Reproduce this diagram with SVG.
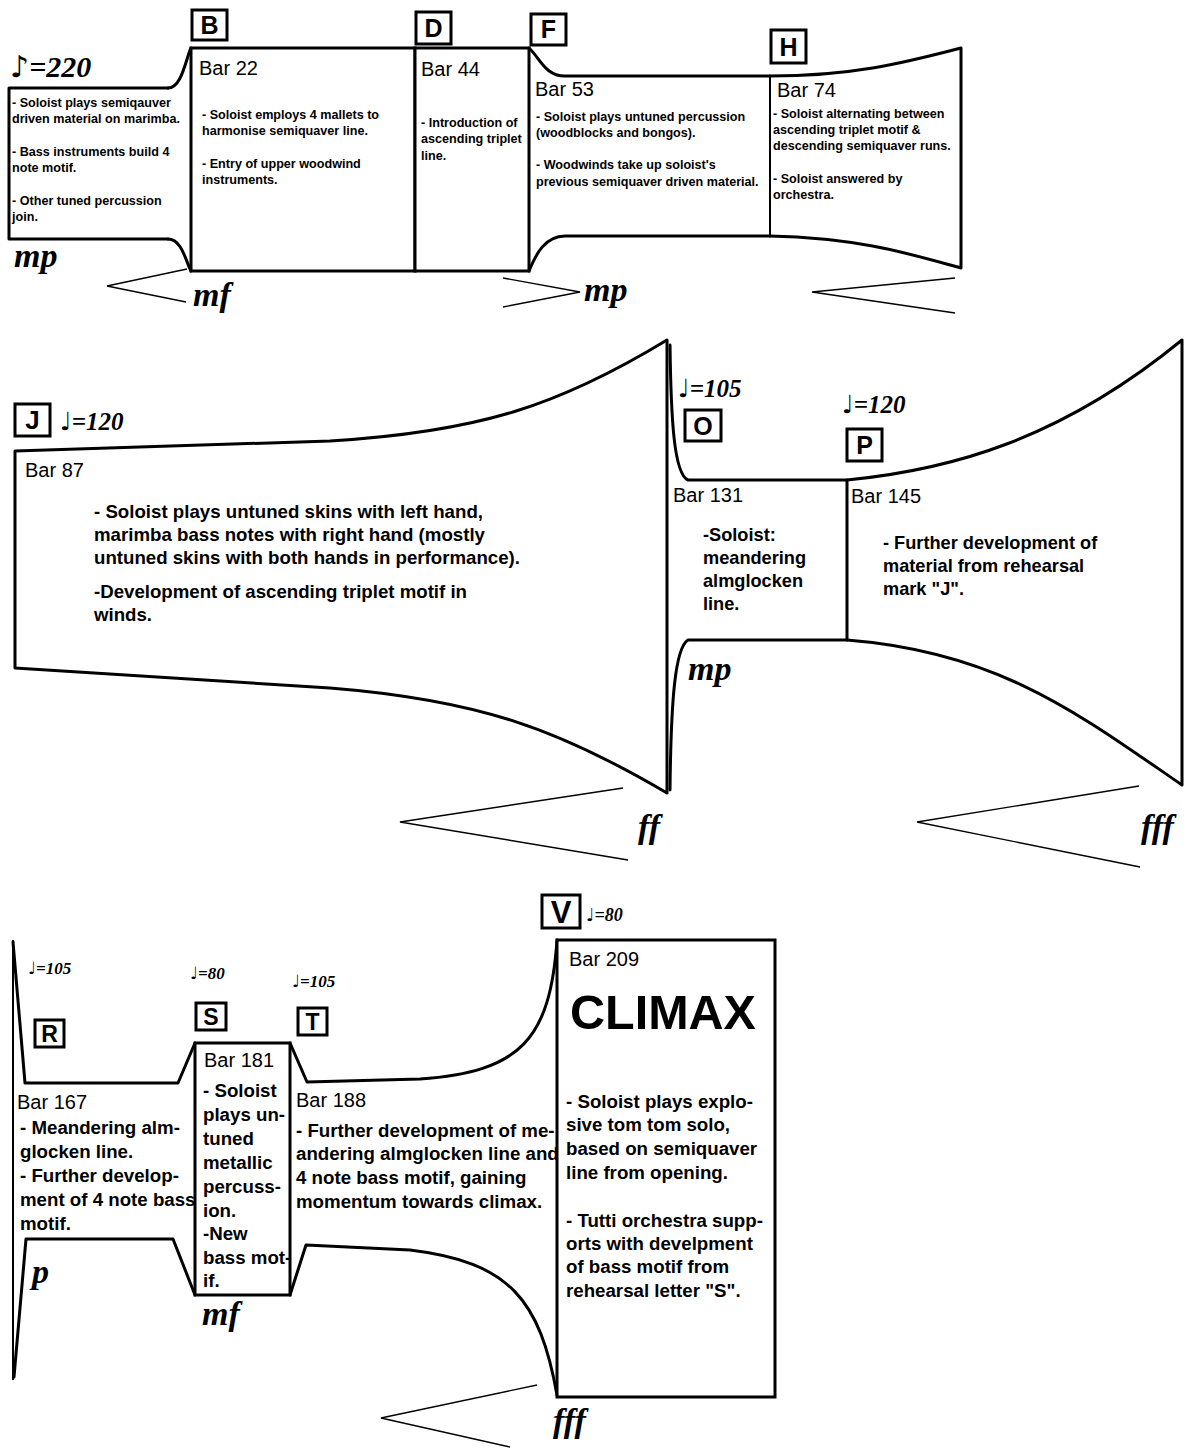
<svg xmlns="http://www.w3.org/2000/svg" width="1199" height="1448" viewBox="0 0 1199 1448">
  <style>
    .edge { fill: none; stroke: #000; stroke-width: 3; stroke-linejoin: round; stroke-linecap: round; }
    .edge2 { fill: none; stroke: #000; stroke-width: 2; }
    .hair { fill: none; stroke: #000; stroke-width: 1.4; }
    .box { fill: #fff; stroke: #000; stroke-width: 3; }
    .lbl { font-family: "Liberation Sans", Arial, sans-serif; font-weight: bold; text-anchor: middle; fill: #000; }
    .sm { font-family: "Liberation Sans", Arial, sans-serif; font-weight: bold; font-size: 12.6px; fill: #000; }
    .bar { font-family: "Liberation Sans", Arial, sans-serif; font-size: 20px; fill: #000; }
    .md { font-family: "Liberation Sans", Arial, sans-serif; font-weight: bold; font-size: 18.2px; fill: #000; }
    .lg { font-family: "Liberation Sans", Arial, sans-serif; font-weight: bold; font-size: 18.7px; fill: #000; }
    .big { font-family: "Liberation Sans", Arial, sans-serif; font-weight: bold; font-size: 48.5px; fill: #000; }
    .dyn { font-family: "Liberation Serif", "DejaVu Serif", serif; font-weight: bold; font-style: italic; font-size: 34px; fill: #000; }
    .tempo { font-family: "Liberation Serif", "DejaVu Serif", serif; font-weight: bold; font-style: italic; fill: #000; }
    .note { font-family: "DejaVu Sans", sans-serif; font-style: normal; font-weight: normal; }
  </style>
  <rect width="1199" height="1448" fill="#fff"/>

  <!-- ===== Row 1: bars 1-86 ===== -->
  <g id="intro">
    <path class="edge" d="M168,88 L9,88 L9,239 L168,239"/>
    <path class="edge" d="M168,88 C182,88 186,58 191,48"/>
    <path class="edge" d="M168,239 C182,239 186,262 191,271"/>
    <text class="tempo" x="10" y="77" font-size="30"><tspan class="note">♪</tspan>=220</text>
    <text class="sm" x="12" y="107">- Soloist plays semiqauver</text>
    <text class="sm" x="12" y="123">driven material on marimba.</text>
    <text class="sm" x="12" y="156">- Bass instruments build 4</text>
    <text class="sm" x="12" y="172">note motif.</text>
    <text class="sm" x="12" y="205">- Other tuned percussion</text>
    <text class="sm" x="12" y="221">join.</text>
    <text class="dyn" x="14" y="267">mp</text>
  </g>

  <g id="bar22">
    <rect class="box" x="191" y="48" width="224" height="223"/>
    <rect class="box" x="192" y="10" width="35" height="30"/>
    <text class="lbl" x="209.5" y="34" font-size="25">B</text>
    <text class="bar" x="199" y="75">Bar 22</text>
    <text class="sm" x="202" y="119">- Soloist employs 4 mallets to</text>
    <text class="sm" x="202" y="135">harmonise semiquaver line.</text>
    <text class="sm" x="202" y="168">- Entry of upper woodwind</text>
    <text class="sm" x="202" y="184">instruments.</text>
    <text class="dyn" x="193" y="306">mf</text>
  </g>

  <g id="bar44">
    <rect class="box" x="415" y="48" width="114" height="223"/>
    <rect class="box" x="416" y="12" width="35" height="32"/>
    <text class="lbl" x="433.5" y="37" font-size="25">D</text>
    <text class="bar" x="421" y="76">Bar 44</text>
    <text class="sm" x="421" y="127">- Introduction of</text>
    <text class="sm" x="421" y="143">ascending triplet</text>
    <text class="sm" x="421" y="160">line.</text>
  </g>

  <g id="bar53">
    <path class="edge" d="M529,48 C540,58 545,76 565,76 L770,76"/>
    <path class="edge" d="M529,271 C536,254 545,236 565,236 L770,236"/>
    <rect class="box" x="531" y="14" width="35" height="31"/>
    <text class="lbl" x="548.5" y="38" font-size="25">F</text>
    <text class="bar" x="535" y="96">Bar 53</text>
    <text class="sm" x="536" y="121">- Soloist plays untuned percussion</text>
    <text class="sm" x="536" y="137">(woodblocks and bongos).</text>
    <text class="sm" x="536" y="169">- Woodwinds take up soloist's</text>
    <text class="sm" x="536" y="186">previous semiquaver driven material.</text>
    <text class="dyn" x="584" y="301">mp</text>
  </g>

  <g id="bar74">
    <line class="edge2" x1="770" y1="76" x2="770" y2="236"/>
    <path class="edge" d="M770,76 C850,76 900,64 961,48 L961,268 C910,254 860,238 770,236"/>
    <rect class="box" x="771" y="30" width="35" height="33"/>
    <text class="lbl" x="788.5" y="56" font-size="25">H</text>
    <text class="bar" x="777" y="97">Bar 74</text>
    <text class="sm" x="773" y="118">- Soloist alternating between</text>
    <text class="sm" x="773" y="134">ascending triplet motif &amp;</text>
    <text class="sm" x="773" y="150">descending semiquaver runs.</text>
    <text class="sm" x="773" y="183">- Soloist answered by</text>
    <text class="sm" x="773" y="199">orchestra.</text>
  </g>

  <!-- ===== Row 2: bars 87-166 ===== -->
  <g id="bar87">
    <path class="edge" d="M667,340 C560,405 480,432 330,441 L15,451 L15,668 L330,688 C480,700 560,730 667,793 Z"/>
    <rect class="box" x="15" y="404" width="35" height="32"/>
    <text class="lbl" x="32.5" y="429" font-size="26">J</text>
    <text class="tempo" x="60" y="430" font-size="25"><tspan class="note">♩</tspan>=120</text>
    <text class="bar" x="25" y="477">Bar 87</text>
    <text class="md" x="94" y="518" textLength="389" lengthAdjust="spacingAndGlyphs">- Soloist plays untuned skins with left hand,</text>
    <text class="md" x="94" y="541" textLength="391" lengthAdjust="spacingAndGlyphs">marimba bass notes with right hand (mostly</text>
    <text class="md" x="94" y="564" textLength="426" lengthAdjust="spacingAndGlyphs">untuned skins with both hands in performance).</text>
    <text class="md" x="94" y="598" textLength="373" lengthAdjust="spacingAndGlyphs">-Development of ascending triplet motif in</text>
    <text class="md" x="94" y="621" textLength="58" lengthAdjust="spacingAndGlyphs">winds.</text>
    <text class="dyn" x="638" y="838">ff</text>
  </g>

  <g id="bar131">
    <path class="edge" d="M670,345 C671,420 674,474 688,480 L847,480 L847,640 L688,640 C675,648 671,700 670,790"/>
    <rect class="box" x="685" y="410" width="36" height="31"/>
    <text class="lbl" x="703" y="435" font-size="25">O</text>
    <text class="tempo" x="678" y="397" font-size="25"><tspan class="note">♩</tspan>=105</text>
    <text class="bar" x="673" y="502">Bar 131</text>
    <text class="md" x="703" y="541">-Soloist:</text>
    <text class="md" x="703" y="564">meandering</text>
    <text class="md" x="703" y="587">almglocken</text>
    <text class="md" x="703" y="610">line.</text>
    <text class="dyn" x="688" y="680" font-size="30">mp</text>
  </g>

  <g id="bar145">
    <path class="edge" d="M847,480 C950,470 1060,440 1182,340 L1182,785 C1080,715 1000,652 847,640"/>
    <rect class="box" x="847" y="429" width="35" height="32"/>
    <text class="lbl" x="864.5" y="454" font-size="25">P</text>
    <text class="tempo" x="842" y="413" font-size="25"><tspan class="note">♩</tspan>=120</text>
    <text class="bar" x="851" y="503">Bar 145</text>
    <text class="md" x="883" y="549">- Further development of</text>
    <text class="md" x="883" y="572">material from rehearsal</text>
    <text class="md" x="883" y="595">mark "J".</text>
    <text class="dyn" x="1141" y="838">fff</text>
  </g>

  <!-- ===== Row 3: bars 167-end ===== -->
  <g id="bar167">
    <path class="edge2" d="M13,940 L13,1380"/>
    <path class="edge" d="M13,942 L25,1083 L178,1083 L195,1043"/>
    <path class="edge" d="M14,1377 L26,1239 L173,1239 L195,1295"/>
    <rect class="box" x="35" y="1020" width="29" height="27"/>
    <text class="lbl" x="49.5" y="1042" font-size="23">R</text>
    <text class="tempo" x="28" y="974" font-size="17"><tspan class="note">♩</tspan>=105</text>
    <text class="bar" x="17" y="1109" font-size="18">Bar 167</text>
    <text class="lg" x="20" y="1134">- Meandering alm-</text>
    <text class="lg" x="20" y="1158">glocken line.</text>
    <text class="lg" x="20" y="1182">- Further develop-</text>
    <text class="lg" x="20" y="1206">ment of 4 note bass</text>
    <text class="lg" x="20" y="1230">motif.</text>
    <text class="dyn" x="32" y="1283" font-size="30">p</text>
  </g>

  <g id="bar181">
    <rect class="box" x="195" y="1043" width="95" height="252"/>
    <rect class="box" x="196" y="1003" width="30" height="27"/>
    <text class="lbl" x="211" y="1025" font-size="23">S</text>
    <text class="tempo" x="190" y="979" font-size="17"><tspan class="note">♩</tspan>=80</text>
    <text class="bar" x="204" y="1067" font-size="18">Bar 181</text>
    <text class="lg" x="203" y="1097">- Soloist</text>
    <text class="lg" x="203" y="1121">plays un-</text>
    <text class="lg" x="203" y="1145">tuned</text>
    <text class="lg" x="203" y="1169">metallic</text>
    <text class="lg" x="203" y="1193">percuss-</text>
    <text class="lg" x="203" y="1217">ion.</text>
    <text class="lg" x="203" y="1240">-New</text>
    <text class="lg" x="203" y="1264">bass mot-</text>
    <text class="lg" x="203" y="1287">if.</text>
    <text class="dyn" x="202" y="1325" font-size="30">mf</text>
  </g>

  <g id="bar188">
    <path class="edge" d="M290,1043 L307,1082 L420,1079 C520,1072 550,1040 557,940"/>
    <path class="edge" d="M290,1295 L306,1245 L410,1250 C510,1262 540,1300 557,1395"/>
    <rect class="box" x="298" y="1008" width="29" height="27"/>
    <text class="lbl" x="312.5" y="1030" font-size="23">T</text>
    <text class="tempo" x="292" y="987" font-size="17"><tspan class="note">♩</tspan>=105</text>
    <text class="bar" x="296" y="1107" font-size="18">Bar 188</text>
    <text class="lg" x="296" y="1137">- Further development of me-</text>
    <text class="lg" x="296" y="1160">andering almglocken line and</text>
    <text class="lg" x="296" y="1184">4 note bass motif, gaining</text>
    <text class="lg" x="296" y="1208">momentum towards climax.</text>
  </g>

  <g id="bar209">
    <rect class="box" x="557" y="940" width="218" height="457"/>
    <rect class="box" x="542" y="895" width="38" height="33"/>
    <text class="lbl" x="561" y="923" font-size="31">V</text>
    <text class="tempo" x="586" y="921" font-size="18"><tspan class="note">♩</tspan>=80</text>
    <text class="bar" x="569" y="966" font-size="18">Bar 209</text>
    <text class="big" x="570" y="1029">CLIMAX</text>
    <text class="lg" x="566" y="1108">- Soloist plays explo-</text>
    <text class="lg" x="566" y="1131">sive tom tom solo,</text>
    <text class="lg" x="566" y="1155">based on semiquaver</text>
    <text class="lg" x="566" y="1179">line from opening.</text>
    <text class="lg" x="566" y="1227">- Tutti orchestra supp-</text>
    <text class="lg" x="566" y="1250">orts with develpment</text>
    <text class="lg" x="566" y="1273">of bass motif from</text>
    <text class="lg" x="566" y="1297">rehearsal letter "S".</text>
    <text class="dyn" x="553" y="1432">fff</text>
  </g>

  <!-- hairpins between dynamic markings -->
  <g id="hairpins">
    <path class="hair" d="M187,269 L107,286 L186,302"/>
    <path class="hair" d="M503,278 L580,292 L503,307"/>
    <path class="hair" d="M955,278 L812,292 L955,313"/>
    <path class="hair" d="M623,788 L400,822 L628,860"/>
    <path class="hair" d="M1139,786 L917,822 L1140,867"/>
    <path class="hair" d="M537,1385 L381,1418 L510,1447"/>
  </g>
</svg>
